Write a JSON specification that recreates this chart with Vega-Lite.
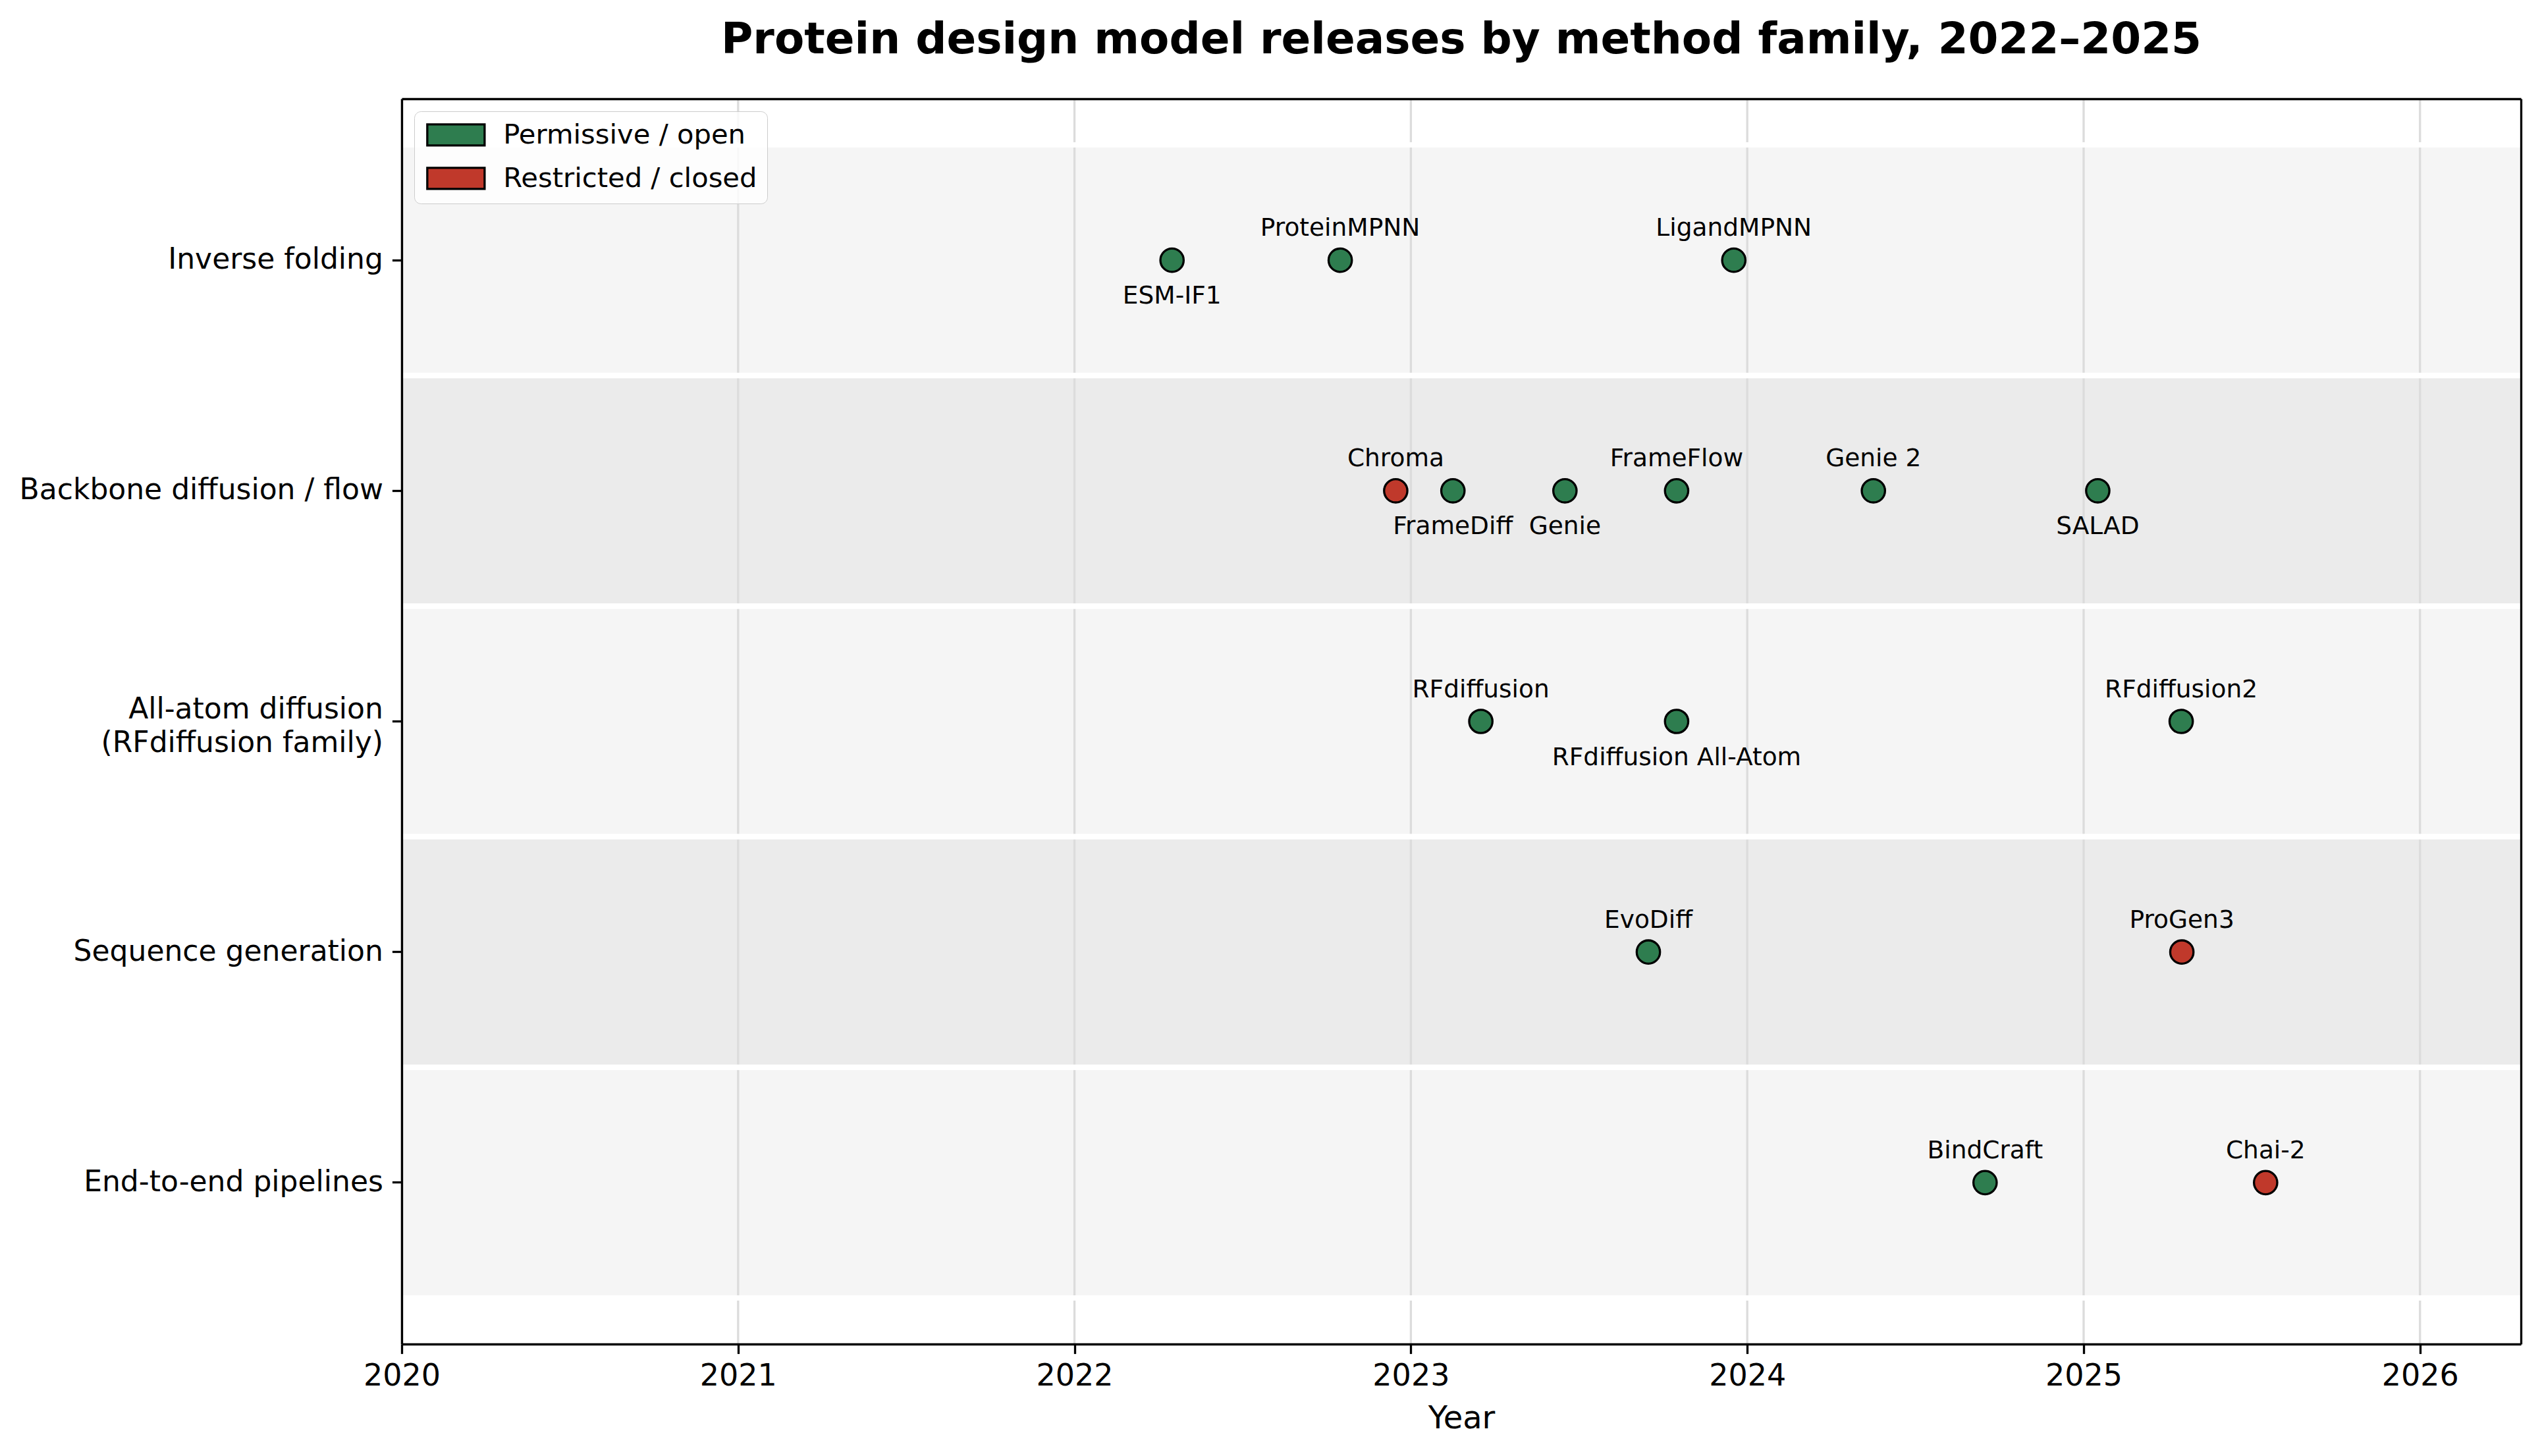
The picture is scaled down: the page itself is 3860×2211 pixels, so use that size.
{
  "$schema": "https://vega.github.io/schema/vega-lite/v6.json",
  "width": 3218,
  "height": 1891,
  "autosize": {"type": "none"},
  "padding": {"left": 610, "top": 150, "right": 32, "bottom": 170},
  "background": "white",
  "config": {
    "font": "DejaVu Sans",
    "view": {"stroke": null},
    "axis": {"labelFont": "DejaVu Sans", "titleFont": "DejaVu Sans"}
  },
  "title": {
    "text": "Protein design model releases by method family, 2022–2025",
    "fontSize": 66,
    "fontWeight": "bold",
    "font": "DejaVu Sans",
    "anchor": "middle",
    "frame": "group",
    "baseline": "alphabetic",
    "offset": 1,
    "color": "black"
  },
  "resolve": {"axis": {"x": "independent", "y": "independent"}},
  "datasets": {
    "families": [
      {"family": "Inverse folding"},
      {"family": "Backbone diffusion / flow"},
      {"family": "All-atom diffusion (RFdiffusion family)"},
      {"family": "Sequence generation"},
      {"family": "End-to-end pipelines"}
    ],
    "years": [
      {"year": 2020}, {"year": 2021}, {"year": 2022}, {"year": 2023},
      {"year": 2024}, {"year": 2025}, {"year": 2026}
    ],
    "models": [
      {"name": "ESM-IF1", "family": "Inverse folding", "year": 2022.29, "license": "Permissive / open", "pos": "below"},
      {"name": "ProteinMPNN", "family": "Inverse folding", "year": 2022.79, "license": "Permissive / open", "pos": "above"},
      {"name": "LigandMPNN", "family": "Inverse folding", "year": 2023.96, "license": "Permissive / open", "pos": "above"},
      {"name": "Chroma", "family": "Backbone diffusion / flow", "year": 2022.955, "license": "Restricted / closed", "pos": "above"},
      {"name": "FrameDiff", "family": "Backbone diffusion / flow", "year": 2023.125, "license": "Permissive / open", "pos": "below"},
      {"name": "Genie", "family": "Backbone diffusion / flow", "year": 2023.458, "license": "Permissive / open", "pos": "below"},
      {"name": "FrameFlow", "family": "Backbone diffusion / flow", "year": 2023.79, "license": "Permissive / open", "pos": "above"},
      {"name": "Genie 2", "family": "Backbone diffusion / flow", "year": 2024.375, "license": "Permissive / open", "pos": "above"},
      {"name": "SALAD", "family": "Backbone diffusion / flow", "year": 2025.042, "license": "Permissive / open", "pos": "below"},
      {"name": "RFdiffusion", "family": "All-atom diffusion (RFdiffusion family)", "year": 2023.208, "license": "Permissive / open", "pos": "above"},
      {"name": "RFdiffusion All-Atom", "family": "All-atom diffusion (RFdiffusion family)", "year": 2023.79, "license": "Permissive / open", "pos": "below"},
      {"name": "RFdiffusion2", "family": "All-atom diffusion (RFdiffusion family)", "year": 2025.29, "license": "Permissive / open", "pos": "above"},
      {"name": "EvoDiff", "family": "Sequence generation", "year": 2023.706, "license": "Permissive / open", "pos": "above"},
      {"name": "ProGen3", "family": "Sequence generation", "year": 2025.292, "license": "Restricted / closed", "pos": "above"},
      {"name": "BindCraft", "family": "End-to-end pipelines", "year": 2024.707, "license": "Permissive / open", "pos": "above"},
      {"name": "Chai-2", "family": "End-to-end pipelines", "year": 2025.541, "license": "Restricted / closed", "pos": "above"}
    ]
  },
  "layer": [
    {
      "data": {"name": "families"},
      "transform": [{"filter": {"field": "family", "oneOf": ["Inverse folding", "All-atom diffusion (RFdiffusion family)", "End-to-end pipelines"]}}],
      "mark": {"type": "rect", "fill": "#f5f5f5", "strokeWidth": 0},
      "encoding": {
        "y": {
          "field": "family",
          "type": "nominal",
          "scale": {
            "type": "band",
            "domain": ["Inverse folding", "Backbone diffusion / flow", "All-atom diffusion (RFdiffusion family)", "Sequence generation", "End-to-end pipelines"],
            "paddingInner": 0,
            "paddingOuter": 0.2
          },
          "axis": {
            "title": null,
            "labelFontSize": 44,
            "labelColor": "black",
            "labelLimit": 1000,
            "labelPadding": 14,
            "labelLineHeight": 51,
            "labelExpr": "datum.value == 'All-atom diffusion (RFdiffusion family)' ? ['All-atom diffusion', '(RFdiffusion family)'] : datum.label",
            "labelOffset": {"condition": {"test": "datum.value == 'All-atom diffusion (RFdiffusion family)'", "value": -18}, "value": 0},
            "tickSize": 14.6,
            "tickWidth": 3.3,
            "tickColor": "black",
            "domainColor": "black",
            "domainWidth": 3.3,
            "grid": false,
            "zindex": 1
          }
        }
      }
    },
    {
      "data": {"name": "families"},
      "transform": [{"filter": {"field": "family", "oneOf": ["Backbone diffusion / flow", "Sequence generation"]}}],
      "mark": {"type": "rect", "fill": "#ebebeb", "strokeWidth": 0},
      "encoding": {
        "y": {
          "field": "family",
          "type": "nominal",
          "axis": {
            "orient": "right",
            "title": null,
            "labels": false,
            "ticks": false,
            "grid": false,
            "domainColor": "black",
            "domainWidth": 3.3,
            "zindex": 1
          }
        }
      }
    },
    {
      "data": {"name": "years"},
      "mark": {"type": "rule", "color": "#dcdcdc", "strokeWidth": 3.3},
      "encoding": {
        "x": {
          "field": "year",
          "type": "quantitative",
          "axis": {
            "orient": "top",
            "title": null,
            "labels": false,
            "ticks": false,
            "grid": false,
            "domainColor": "black",
            "domainWidth": 3.3,
            "zindex": 1
          }
        }
      }
    },
    {
      "data": {"name": "families"},
      "mark": {"type": "rule", "color": "white", "strokeWidth": 8},
      "encoding": {"y": {"field": "family", "type": "nominal", "bandPosition": 0, "axis": null}}
    },
    {
      "data": {"name": "families"},
      "mark": {"type": "rule", "color": "white", "strokeWidth": 8},
      "encoding": {"y": {"field": "family", "type": "nominal", "bandPosition": 1, "axis": null}}
    },
    {
      "data": {"name": "models"},
      "mark": {"type": "point", "shape": "circle", "filled": true, "opacity": 1, "stroke": "black", "strokeWidth": 3.3, "size": 1250},
      "encoding": {
        "x": {
          "field": "year",
          "type": "quantitative",
          "scale": {"domain": [2020, 2026.3], "nice": false, "zero": false},
          "axis": {
            "values": [2020, 2021, 2022, 2023, 2024, 2025, 2026],
            "format": "d",
            "title": "Year",
            "titleFontSize": 48,
            "titleFontWeight": "normal",
            "titleColor": "black",
            "titlePadding": 18,
            "labelFontSize": 46,
            "labelColor": "black",
            "labelPadding": 12,
            "labelFlush": false,
            "tickSize": 14.6,
            "tickWidth": 3.3,
            "tickColor": "black",
            "domainColor": "black",
            "domainWidth": 3.3,
            "grid": false,
            "zindex": 1
          }
        },
        "y": {"field": "family", "type": "nominal", "axis": null},
        "fill": {
          "field": "license",
          "type": "nominal",
          "scale": {"domain": ["Permissive / open", "Restricted / closed"], "range": ["#2e7d4f", "#c0392b"]},
          "legend": {
            "title": null,
            "orient": "top-left",
            "offset": 19,
            "padding": 15,
            "symbolType": "M-2.72,-1L2.72,-1L2.72,1L-2.72,1Z",
            "symbolSize": 1024,
            "symbolOffset": 27.5,
            "symbolStrokeColor": "black",
            "symbolStrokeWidth": 3.3,
            "symbolOpacity": 1,
            "labelFontSize": 41.7,
            "labelColor": "black",
            "labelOffset": 51,
            "labelLimit": 1000,
            "rowPadding": 20,
            "fillColor": "rgba(255,255,255,0.8)",
            "strokeColor": "#cccccc",
            "cornerRadius": 10
          }
        }
      }
    },
    {
      "data": {"name": "models"},
      "transform": [{"filter": "datum.pos == 'above'"}],
      "mark": {"type": "text", "fontSize": 37.5, "color": "black", "align": "center", "baseline": "alphabetic", "dy": -37},
      "encoding": {
        "x": {"field": "year", "type": "quantitative", "axis": null},
        "y": {"field": "family", "type": "nominal", "axis": null},
        "text": {"field": "name"}
      }
    },
    {
      "data": {"name": "models"},
      "transform": [{"filter": "datum.pos == 'below'"}],
      "mark": {"type": "text", "fontSize": 37.5, "color": "black", "align": "center", "baseline": "alphabetic", "dy": 66},
      "encoding": {
        "x": {"field": "year", "type": "quantitative", "axis": null},
        "y": {"field": "family", "type": "nominal", "axis": null},
        "text": {"field": "name"}
      }
    }
  ]
}
